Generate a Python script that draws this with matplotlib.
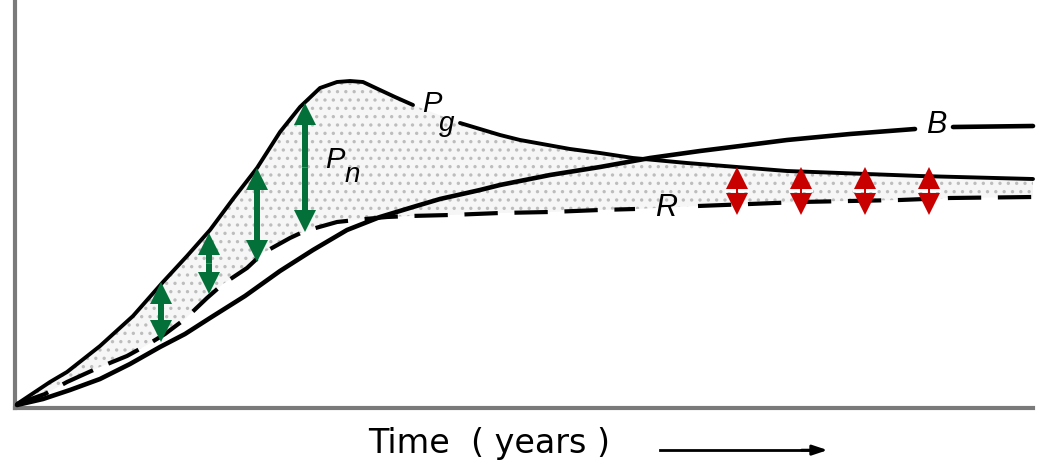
import numpy as np
import matplotlib.pyplot as plt

# Production / respiration / biomass during succession (values read off the sketch,
# arbitrary units: x = time, y = energy)
pg_x = [2, 35, 52, 85, 118, 148, 172, 195, 218, 242, 265, 285, 305, 322, 335, 348,
        365, 380, 398, 445, 485, 505, 555, 585, 618, 672, 772, 905, 1018]
pg_y = [4, 26, 36, 62, 92, 126, 152, 178, 209, 240, 276, 301, 320, 326, 327, 326,
        318, 311, 303, 285, 273, 268, 259, 255, 250, 245, 237, 232, 229]

r_x = [2, 30, 52, 85, 112, 132, 150, 170, 192, 208, 232, 248, 275, 290, 322, 350,
       372, 395, 435, 485, 535, 585, 620, 683, 735, 785, 835, 885, 935, 1018]
r_y = [4, 14, 26, 41, 52, 63, 74, 89, 110, 124, 140, 155, 170, 177, 186, 189,
       191, 192, 193, 195, 196, 198, 199, 202, 204, 206, 207, 208, 210, 211]

b_x = [2, 28, 55, 85, 115, 145, 170, 195, 230, 265, 298, 332, 365, 398, 425, 465,
       485, 535, 585, 635, 685, 725, 772, 835, 900, 938, 1018]
b_y = [3, 9, 18, 29, 44, 61, 74, 90, 112, 137, 158, 178, 191, 201, 209, 218,
       223, 233, 241, 250, 257, 262, 268, 274, 279, 281, 282]

# net production arrows (green) and Pg - R gap arrows (red)
pn_arrow_x = [146, 194, 242, 290]
pn_arrow_top = [126, 175, 240, 305]
pn_arrow_bottom = [66, 114, 146, 176]
gap_arrow_x = [722, 786, 850, 914]
gap_arrow_top = [241, 241, 241, 241]
gap_arrow_bottom = [193, 193, 193, 193]

green = '#03703a'
red = '#c80000'

pg_x, pg_y = np.array(pg_x), np.array(pg_y)
r_x, r_y = np.array(r_x), np.array(r_y)
b_x, b_y = np.array(b_x), np.array(b_y)

plt.rcParams['hatch.linewidth'] = 1.2

fig = plt.figure(figsize=(10.41, 4.65), dpi=100)
ax = fig.add_axes([15 / 1041, 57 / 465, 1018 / 1041, 408 / 465])
ax.set_xlim(0, 1018)
ax.set_ylim(0, 408)

# stippled area between gross production and respiration
ax.fill(np.concatenate([pg_x, r_x[::-1]]), np.concatenate([pg_y, r_y[::-1]]),
        facecolor='#f6f6f6', edgecolor='#bdbdbd', hatch='..', lw=0, zorder=1)

# curves, with gaps left for the labels
for part in (pg_x <= 398, pg_x >= 445):
    ax.plot(pg_x[part], pg_y[part], color='black', lw=2.8,
            solid_capstyle='round', solid_joinstyle='round', clip_on=False, zorder=3)
for part in (b_x <= 900, b_x >= 938):
    ax.plot(b_x[part], b_y[part], color='black', lw=3.3,
            solid_capstyle='round', solid_joinstyle='round', clip_on=False, zorder=3)
for part in (r_x <= 620, r_x >= 683):
    ax.plot(r_x[part], r_y[part], color='black', lw=3.0, dashes=(8, 4),
            clip_on=False, zorder=3)

lab = dict(family='Liberation Sans', style='italic', color='black',
           ha='center', va='center', zorder=4)
ax.text(417, 304, 'P', fontsize=21, **lab)
ax.text(432, 284, 'g', fontsize=20, **lab)
ax.text(320, 248, 'P', fontsize=21, **lab)
ax.text(337, 233, 'n', fontsize=20, **lab)
ax.text(651, 200, 'R', fontsize=22, **lab)
ax.text(921, 283, 'B', fontsize=22, **lab)

# double headed arrows drawn as two halves from the middle
for x, top, bot in zip(pn_arrow_x, pn_arrow_top, pn_arrow_bottom):
    mid = (top + bot) / 2
    for tip in (top, bot):
        ax.arrow(x, mid, 0, tip - mid, width=6, head_width=22, head_length=22,
                 length_includes_head=True, color=green, lw=0, zorder=5)
for x, top, bot in zip(gap_arrow_x, gap_arrow_top, gap_arrow_bottom):
    mid = (top + bot) / 2
    for tip in (top, bot):
        ax.arrow(x, mid, 0, tip - mid, width=2, head_width=22, head_length=22,
                 length_includes_head=True, color=red, lw=0, zorder=5)
    ax.plot([x - 11, x - 2], [mid, mid], color='white', lw=1.5, zorder=6)
    ax.plot([x + 2, x + 11], [mid, mid], color='white', lw=1.5, zorder=6)

for side in ('top', 'right'):
    ax.spines[side].set_visible(False)
for side in ('left', 'bottom'):
    ax.spines[side].set_color('#7a7a7a')
    ax.spines[side].set_linewidth(3)
ax.set_xticks([])
ax.set_yticks([])

fig.text(0.470, 0.026, 'Time  ( years )', fontsize=24, family='DejaVu Sans',
         ha='center', va='baseline')
fig.add_artist(plt.Line2D([0.634, 0.780], [0.032, 0.032], color='black', lw=2))
ax.annotate('', xy=(0.795, 0.032), xytext=(0.770, 0.032),
            xycoords='figure fraction', textcoords='figure fraction',
            arrowprops=dict(arrowstyle='-|>,head_length=0.9,head_width=0.3',
                            color='black', lw=2, shrinkA=0, shrinkB=0))

fig.savefig('out.png', dpi=100)
